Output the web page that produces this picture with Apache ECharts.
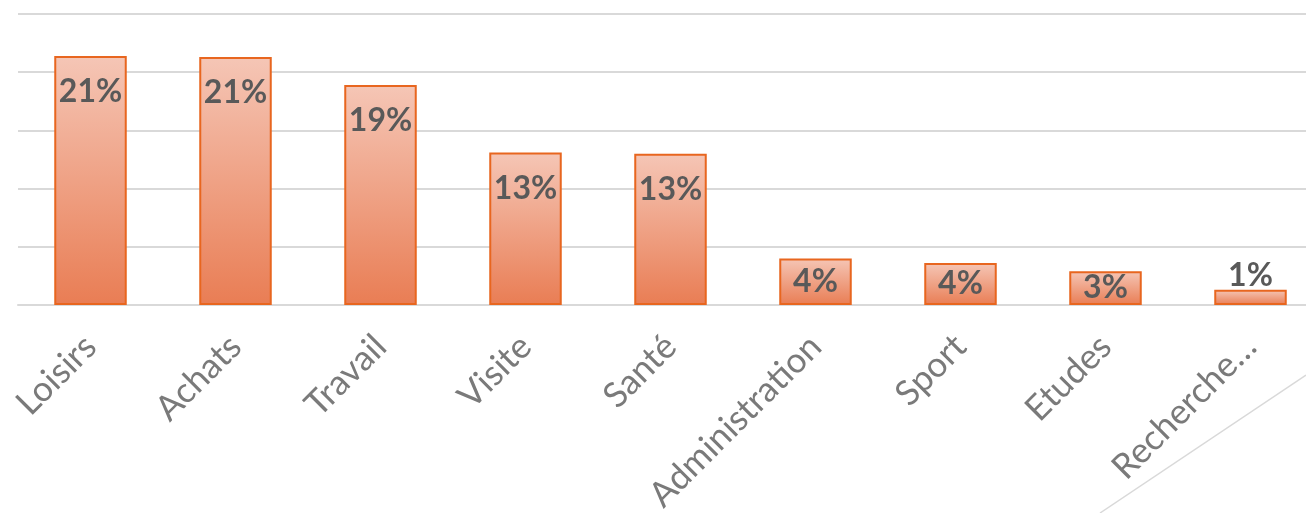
<!DOCTYPE html>
<html>
<head>
<meta charset="utf-8">
<script src="https://cdn.jsdelivr.net/npm/echarts@6/dist/echarts.min.js"></script>
<style>html,body{margin:0;padding:0;background:#fff;}#c{width:1306px;height:513px;}</style>
</head>
<body>
<div id="c"></div>
<script>
const categories = ['Loisirs', 'Achats', 'Travail', 'Visite', 'Santé', 'Administration', 'Sport', 'Etudes', 'Recherche…'];
const values = [21.4, 21.3, 18.9, 13.1, 13.0, 4.0, 3.6, 2.9, 1.3];
const yTicks = [0, 5, 10, 15, 20, 25];

const chart = echarts.init(document.getElementById('c'));
const data = values.map((v) => {
  const d = { value: v };
  if (v < 2) d.label = { position: 'top', distance: -2 };
  else if (v < 6) d.label = { position: 'inside' };
  return d;
});
chart.setOption({
  animation: false,
  grid: { left: 18, width: 1305, top: 14, height: 291, containLabel: false, outerBoundsMode: 'none' },
  xAxis: {
    type: 'category',
    data: categories,
    axisTick: { show: false },
    axisLine: { lineStyle: { color: '#d9d9d9', width: 2 } },
    axisLabel: {
      rotate: 45, margin: 36, interval: 0,
      color: '#7a7a7a', fontSize: 35, fontFamily: 'Lato'
    }
  },
  yAxis: {
    type: 'value', min: yTicks[0], max: yTicks[yTicks.length - 1], interval: 5,
    axisLabel: { show: false },
    axisLine: { show: false }, axisTick: { show: false },
    splitLine: { lineStyle: { color: '#d9d9d9', width: 2 } }
  },
  series: [{
    type: 'bar',
    data: data,
    barWidth: '50%',
    itemStyle: {
      color: new echarts.graphic.LinearGradient(0, 0, 0, 1, [
        { offset: 0, color: '#f5c6b6' },
        { offset: 1, color: '#e97d54' }
      ]),
      borderColor: '#e8661f',
      borderWidth: 2
    },
    label: {
      show: true, position: 'insideTop', distance: 20,
      formatter: p => Math.round(p.value) + '%',
      color: '#595959', fontSize: 32, fontWeight: 'bold',
      fontFamily: 'Lato'
    }
  }],
  graphic: [{
    type: 'line', silent: true,
    shape: { x1: 1100, y1: 513, x2: 1306, y2: 375 },
    style: { stroke: '#d9d9d9', lineWidth: 1.5 }
  }]
});
</script>
</body>
</html>
